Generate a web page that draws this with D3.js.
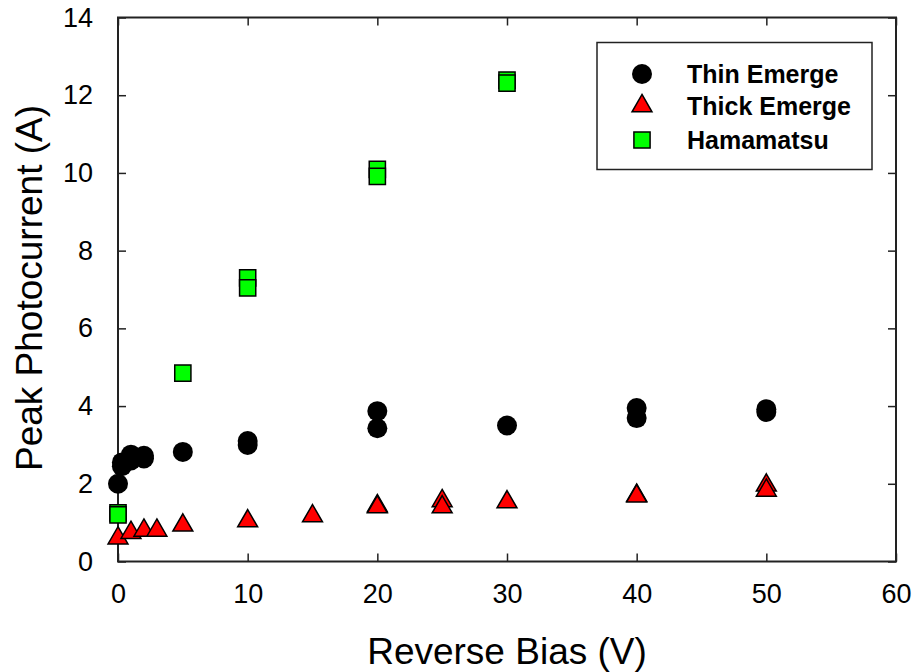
<!DOCTYPE html>
<html>
<head>
<meta charset="utf-8">
<script src="https://cdn.jsdelivr.net/npm/d3@7"></script>
<style>
  body { margin: 0; background: #fff; }
  svg { display: block; font-family: "Liberation Sans", Arial, sans-serif; }
</style>
</head>
<body>
<svg width="913" height="672"></svg>
<script>
// data: [reverse bias (V), peak photocurrent (A)]
var thinEmerge = [
    [0, 2.0], [0.3, 2.45], [0.3, 2.55], [1, 2.75], [1, 2.6], [2, 2.72], [2, 2.65],
    [5, 2.82], [10, 3.1], [10, 3.0], [20, 3.87], [20, 3.43], [30, 3.5],
    [40, 3.95], [40, 3.69], [50, 3.92], [50, 3.85]
];
var thickEmerge = [
    [0, 0.6], [1, 0.74], [2, 0.8], [3, 0.8], [5, 0.93], [10, 1.04], [15, 1.17],
    [20, 1.43], [20, 1.4], [25, 1.56], [25, 1.4], [30, 1.53], [40, 1.7], [40, 1.68],
    [50, 1.96], [50, 1.83]
];
var hamamatsu = [
    [0, 1.25], [0, 1.2], [5, 4.85], [10, 7.3], [10, 7.04], [20, 10.09], [20, 9.91],
    [30, 12.39], [30, 12.31]
];
var seriesNames = ['Thin Emerge', 'Thick Emerge', 'Hamamatsu'];
var xTicks = [0, 10, 20, 30, 40, 50, 60];
var yTicks = [0, 2, 4, 6, 8, 10, 12, 14];

var svg = d3.select('svg');
var plotLeft = 118, plotRight = 896, plotTop = 17.5, plotBottom = 561.5;
var tickLen = 8;

var x = d3.scaleLinear().domain([0, 60]).range([plotLeft, plotRight]);
var y = d3.scaleLinear().domain([0, 14]).range([plotBottom, plotTop]);

var styles = [
    { type: d3.symbolCircle, size: 314, fill: '#000', stroke: 'none' },
    { type: d3.symbolTriangle, size: 172, fill: '#ff0000', stroke: '#000' },
    { type: d3.symbolSquare, size: 262, fill: '#00ff00', stroke: '#000' }
];

// axes with inward ticks on all four sides
function axisStyle(g) {
    g.attr('font-size', 27).attr('font-family', '"Liberation Sans", Arial, sans-serif');
    g.select('.domain').remove();
    g.selectAll('.tick line').attr('stroke', '#222').attr('stroke-width', 1.5);
    g.selectAll('.tick text').attr('fill', '#000');
}

svg.append('g')
    .attr('transform', 'translate(0,' + plotBottom + ')')
    .call(d3.axisBottom(x).tickValues(xTicks).tickSizeInner(-tickLen).tickSizeOuter(0).tickPadding(22))
    .call(axisStyle);
svg.append('g')
    .attr('transform', 'translate(0,' + plotTop + ')')
    .call(d3.axisTop(x).tickValues(xTicks).tickSizeInner(-tickLen).tickSizeOuter(0).tickFormat(''))
    .call(axisStyle);
svg.append('g')
    .attr('transform', 'translate(' + plotLeft + ',0)')
    .call(d3.axisLeft(y).tickValues(yTicks).tickSizeInner(-tickLen).tickSizeOuter(0).tickPadding(25))
    .call(axisStyle);
svg.append('g')
    .attr('transform', 'translate(' + plotRight + ',0)')
    .call(d3.axisRight(y).tickValues(yTicks).tickSizeInner(-tickLen).tickSizeOuter(0).tickFormat(''))
    .call(axisStyle);

svg.append('rect')
    .attr('x', plotLeft).attr('y', plotTop)
    .attr('width', plotRight - plotLeft).attr('height', plotBottom - plotTop)
    .attr('fill', 'none').attr('stroke', '#222').attr('stroke-width', 2);

// axis titles
svg.append('text')
    .attr('x', 507).attr('y', 664)
    .attr('text-anchor', 'middle').attr('font-size', 37)
    .text('Reverse Bias (V)');
svg.append('text')
    .attr('transform', 'translate(42,288) rotate(-90)')
    .attr('text-anchor', 'middle').attr('font-size', 37)
    .text('Peak Photocurrent (A)');

// points
[thinEmerge, thickEmerge, hamamatsu].forEach(function(data, i) {
    var s = styles[i];
    svg.append('g').selectAll('path')
        .data(data)
        .enter().append('path')
        .attr('transform', d => 'translate(' + x(d[0]) + ',' + y(d[1]) + ')')
        .attr('d', d3.symbol().type(s.type).size(s.size)())
        .attr('fill', s.fill)
        .attr('stroke', s.stroke)
        .attr('stroke-width', 1.5);
});

// legend
var legend = svg.append('g');
legend.append('rect')
    .attr('x', 597).attr('y', 42.5).attr('width', 275).attr('height', 127)
    .attr('fill', '#fff').attr('stroke', '#222').attr('stroke-width', 1.5);
var rowY = [74, 106, 140];
seriesNames.forEach(function(name, i) {
    var s = styles[i];
    legend.append('path')
        .attr('transform', 'translate(642,' + rowY[i] + ')')
        .attr('d', d3.symbol().type(s.type).size(s.size)())
        .attr('fill', s.fill).attr('stroke', s.stroke).attr('stroke-width', 1.5);
    legend.append('text')
        .attr('x', 687).attr('y', rowY[i] + 9)
        .attr('font-size', 25).attr('font-weight', 'bold')
        .text(name);
});
</script>
</body>
</html>
